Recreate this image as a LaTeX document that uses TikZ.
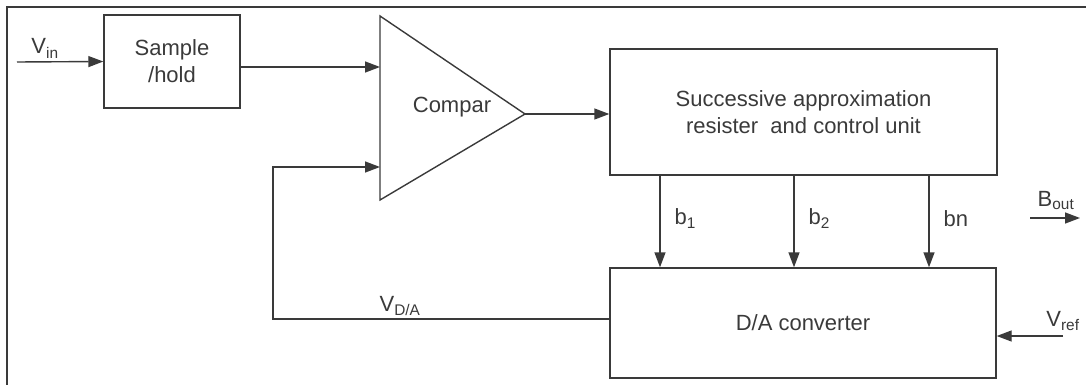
\documentclass[tikz,border=0pt]{standalone}
\usepackage{fontspec}
\setmainfont{Liberation Sans}
\usetikzlibrary{arrows.meta, positioning}
\definecolor{ink}{HTML}{3A3A3A}
\tikzset{
  blk/.style={draw=ink, line width=1.4pt, inner sep=0pt, align=center,
              text=ink, font=\fontsize{22}{27}\selectfont},
  lbl/.style={text=ink, inner sep=0pt, font=\fontsize{22}{27}\selectfont},
  wire/.style={ink, line width=1.4pt},
  fl/.style={-{Triangle[length=15pt, width=11pt]}, ink, line width=1.4pt},
}

\begin{document}
\begin{tikzpicture}[x=1pt, y=-1pt]
    \useasboundingbox (0,0) rectangle (1086,385);
    \draw[wire] (7,385) -- (7,7) -- (1086,7);
    % blocks
    \node[blk, minimum width=136pt, minimum height=93pt] (sh) at (172,61.5) {Sample\\/hold};
    \node[blk, minimum width=387pt, minimum height=126pt] (sar) at (803.5,112) {Successive approximation\\resister\ \ and control unit};
    \node[blk, minimum width=386pt, minimum height=110pt] (da) at (803,323) {D/A converter};
    % comparator
    \coordinate (ct) at (380,16);
    \coordinate (cb) at (380,200);
    \coordinate (cp) at (525,114);
    \draw[wire, line join=miter] (ct) -- (cp) -- (cb) -- cycle;
    \node[lbl] (cmp) at (452,107) {Compar};
    \coordinate (cin1) at (380,67);
    \coordinate (cin2) at (380,167);
    % signal path
    \coordinate (vin) at (17,62);
    \draw[fl] (vin) -- (sh.west);
    \node[lbl, anchor=base] (vinl) at (45,54) {V\textsubscript{in}};
    \draw[fl] (sh.east |- cin1) -- (cin1);
    \draw[fl] (cp) -- (sar.west |- cp);
    \foreach \x/\b [count=\i] in {660/b\textsubscript{1}, 794/b\textsubscript{2}, 929/bn}
      \draw[fl] (sar.south -| \x,0) -- (da.north -| \x,0)
        node[lbl, pos=0.47, right=14pt] (bl\i) {\b};
    % feedback
    \coordinate (fbk) at (273,319);
    \draw[fl] (da.west |- fbk) -- (fbk) |- (cin2);
    \node[lbl, anchor=base] (vdal) at (400,311) {V\textsubscript{D/A}};
    % output and reference
    \coordinate (bo1) at (1030,218);
    \coordinate (bo2) at (1080,218);
    \draw[fl] (bo1) -- (bo2);
    \node[lbl, anchor=base] (boutl) at (1056,206) {B\textsubscript{out}};
    \coordinate (vr) at (1063,336);
    \draw[fl] (vr) -- (da.east |- vr);
    \node[lbl, anchor=base] (vrefl) at (1063,326) {V\textsubscript{ref}};
  \end{tikzpicture}
\end{document}
